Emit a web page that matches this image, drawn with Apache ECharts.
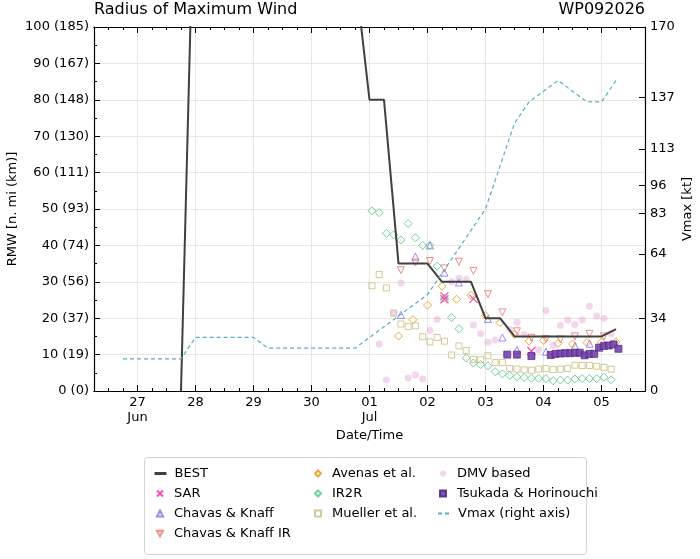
<!DOCTYPE html>
<html>
<head>
<meta charset="utf-8">
<script src="https://cdn.jsdelivr.net/npm/echarts@6/dist/echarts.min.js"></script>
<style>
html, body { margin: 0; padding: 0; background: #fff; }
#main { width: 700px; height: 559px; }
</style>
</head>
<body>
<div id="main"></div>
<script>
// times are hours from 2026-07-01 00:00 UTC
var FONT = 'DejaVu Sans';

// best track and Vmax, 6-hourly
var trackHours = [-102, -96, -90, -84, -78, -72, -66, -60, -54, -48, -42, -36, -30, -24, -18, -12, -6,
  0, 6, 12, 18, 24, 30, 36, 42, 48, 54, 60, 66, 72, 78, 84, 90, 96, 102];
var bestRmw = [null, null, null, null, 0, 155, null, null, null, null, null, null, null, null, null, null, 115,
  80, 80, 35, 35, 35, 30, 30, 30, 20, 20, 15, 15, 15, 15, 15, 15, 15, 17];
var vmaxKt = [15, 15, 15, 15, 15, 25, 25, 25, 25, 25, 20, 20, 20, 20, 20, 20, 20,
  25, 30, 35, 40, 45, 55, 65, 75, 85, 105, 125, 135, 140, 145, 140, 135, 135, 145];

var sarHours = [31, 31, 43, 67];
var sarRmw = [26.0, 25.2, 25.3, 11.0];

var ckHours = [13, 19, 25, 31, 37, 49, 55, 61, 73, 85, 91];
var ckRmw = [20.9, 36.9, 40.0, 32.5, 29.8, 19.8, 14.7, 11.3, 10.8, 12.4, 13.0];

var ckirHours = [13, 19, 25, 31, 37, 43, 49, 55, 61, 67, 73, 79, 85, 91, 97];
var ckirRmw = [33.2, 35.3, 35.7, 33.7, 35.5, 33.0, 26.6, 21.6, 16.4, 14.6, 14.3, 14.2, 15.0, 15.7, 15.0];

var avenasHours = [12, 18, 24, 30, 36, 42, 48, 54, 60, 66, 72, 78, 84, 90, 96, 102];
var avenasRmw = [15.1, 19.6, 23.6, 28.8, 25.2, 26.3, 20.7, 18.8, 15.6, 13.7, 13.9, 13.1, 12.9, 13.3, 13.4, 13.5];

var irHours = [1, 4, 7, 10, 13, 16, 19, 22, 25, 28, 31, 34, 37, 40, 43, 46, 49, 52, 55, 58, 61, 64, 67,
  70, 73, 76, 79, 82, 85, 88, 91, 94, 97, 100];
var ir2rRmw = [49.5, 49.0, 43.3, 42.9, 41.5, 46.0, 42.1, 40.0, 40.0, 34.3, 25.5, 20.2, 17.1, 9.1, 7.7, 7.3,
  6.9, 5.3, 4.7, 4.3, 3.9, 3.7, 3.5, 3.5, 3.4, 2.8, 3.0, 3.0, 3.3, 3.4, 3.4, 3.4, 3.8, 3.1];
var muellerRmw = [28.9, 32.0, 28.3, 21.4, 18.4, 17.7, 17.9, 14.9, 13.5, 14.7, 13.7, 9.9, 12.4, 11.1, 8.7, 8.6,
  9.7, 7.8, 7.8, 6.2, 6.0, 5.8, 5.7, 6.0, 6.2, 5.9, 6.0, 6.2, 7.1, 7.0, 7.0, 6.8, 6.5, 6.0];

var dmvHours = [4, 7, 10, 13, 16, 19, 22, 25, 28, 34, 37, 40, 43, 46, 49, 52, 58, 61, 64, 70, 73, 76, 79,
  82, 85, 88, 91, 94, 97, 100];
var dmvRmw = [12.9, 3.0, 21.4, 29.7, 3.6, 4.4, 3.3, 16.6, 19.7, 30.0, 31.0, 30.6, 18.1, 15.7, 13.4, 14.0,
  16.9, 18.9, 15.5, 11.3, 22.1, 12.5, 18.0, 19.5, 18.3, 19.6, 23.3, 20.6, 20.0, 15.7];

var tsukadaHours = [57, 61, 67, 75, 77, 79, 81, 83, 85, 87, 89, 91, 93, 95, 97, 99, 101, 103];
var tsukadaRmw = [10.0, 10.0, 9.6, 9.9, 10.2, 10.3, 10.4, 10.4, 10.5, 10.5, 9.8, 10.2, 10.2, 11.9, 12.4,
  12.5, 12.8, 11.6];

var dayTicks = [-96, -72, -48, -24, 0, 24, 48, 72, 96];
var vmaxTicks = [0, 34, 64, 83, 96, 113, 137, 170];
var monthNames = ['Jan', 'Feb', 'Mar', 'Apr', 'May', 'Jun', 'Jul', 'Aug', 'Sep', 'Oct', 'Nov', 'Dec'];

var quarterTicks = [];
for (var q = -108; q <= 108; q += 6) {
  if (q % 24 !== 0) quarterTicks.push(q);
}

function pairs(xs, ys) {
  var out = [];
  for (var i = 0; i < xs.length; i++) out.push([xs[i], ys[i]]);
  return out;
}

function dayLabel(v) {
  var d = new Date(Date.UTC(2026, 6, 1) + v * 3600000);
  var dd = ('0' + d.getUTCDate()).slice(-2);
  if (v === dayTicks[0] || d.getUTCDate() === 1) return dd + '\n' + monthNames[d.getUTCMonth()];
  return dd;
}

function xAxisOf(pos, ticks, len, withLabels, withGrid) {
  return {
    type: 'value', position: pos, min: -114, max: 114,
    axisLine: { show: true, onZero: false, lineStyle: { color: '#000', width: 1.2 } },
    axisTick: { show: true, inside: true, length: len, customValues: ticks, lineStyle: { color: '#000', width: 1 } },
    axisLabel: {
      show: withLabels, customValues: ticks, formatter: dayLabel, margin: 4,
      fontFamily: FONT, fontSize: 13, color: '#000', lineHeight: 15
    },
    splitLine: { show: withGrid, lineStyle: { color: '#ebe7e1', width: 1 } }
  };
}

var xAxes = [
  xAxisOf('bottom', dayTicks, 6, true, true),
  xAxisOf('bottom', quarterTicks, 3, false, false),
  xAxisOf('top', dayTicks, 6, false, false),
  xAxisOf('top', quarterTicks, 3, false, false)
];
xAxes[0].name = 'Date/Time';
xAxes[0].nameLocation = 'middle';
xAxes[0].nameGap = 38;
xAxes[0].nameMoveOverlap = false;
xAxes[0].nameTextStyle = { fontFamily: FONT, fontSize: 13, color: '#000' };

function outlined(name, symbol, color, hours, vals, size, rotate) {
  return {
    name: name, type: 'scatter', xAxisIndex: 0, yAxisIndex: 0,
    symbol: symbol, symbolSize: size, symbolRotate: rotate || 0,
    itemStyle: { color: 'rgba(0,0,0,0)', borderColor: color, borderWidth: 1 },
    data: pairs(hours, vals)
  };
}

// one legend block per group so the three columns sit like the original
function legendBlock(left, top, w, pad, names) {
  return {
    orient: 'vertical', left: left, top: top, padding: 0, itemWidth: w, itemHeight: 6, itemGap: 7,
    textStyle: { fontFamily: FONT, fontSize: 13, color: '#000', padding: [0, 0, 0, pad] },
    data: names
  };
}

var option = {
  animation: false,
  backgroundColor: '#fff',
  textStyle: { fontFamily: FONT },
  title: [
    { text: 'Radius of Maximum Wind', left: 94, top: 2, padding: 0,
      textStyle: { fontFamily: FONT, fontSize: 16, fontWeight: 'normal', color: '#000' } },
    { text: 'WP092026', right: 55, top: 2, padding: 0,
      textStyle: { fontFamily: FONT, fontSize: 16, fontWeight: 'normal', color: '#000' } }
  ],
  grid: { left: 94, right: 55, top: 27, bottom: 168, outerBoundsMode: 'none', containLabel: false },
  xAxis: xAxes,
  yAxis: [{
    type: 'value', position: 'left', min: 0, max: 100, interval: 10,
    name: 'RMW [n. mi (km)]', nameLocation: 'middle', nameGap: 75, nameMoveOverlap: false,
    nameTextStyle: { fontFamily: FONT, fontSize: 13, color: '#000' },
    axisLine: { show: true, onZero: false, lineStyle: { color: '#000', width: 1.2 } },
    axisTick: { show: true, inside: true, length: 6, lineStyle: { color: '#000' } },
    minorTick: { show: true, splitNumber: 2, length: 3, lineStyle: { color: '#000' } },
    axisLabel: {
      fontFamily: FONT, fontSize: 13, color: '#000', margin: 5,
      formatter: function (v) { return v + ' (' + Math.round(v * 1.852) + ')'; }
    },
    splitLine: { show: true, lineStyle: { color: '#ebe7e1', width: 1 } }
  }, {
    type: 'value', position: 'right', min: 0, max: 170,
    name: 'Vmax [kt]', nameLocation: 'middle', nameRotate: 90, nameGap: 36, nameMoveOverlap: false,
    nameTextStyle: { fontFamily: FONT, fontSize: 13, color: '#000' },
    axisLine: { show: true, onZero: false, lineStyle: { color: '#000', width: 1.2 } },
    axisTick: { show: true, inside: true, length: 6, customValues: vmaxTicks, lineStyle: { color: '#000' } },
    axisLabel: { customValues: vmaxTicks, fontFamily: FONT, fontSize: 13, color: '#000', margin: 5 },
    splitLine: { show: false }
  }],
  legend: [
    legendBlock(153, 467, 12, 3, [{ name: 'BEST', itemStyle: { opacity: 0 }, lineStyle: { width: 3 } }]),
    legendBlock(156, 487, 6, 6, ['SAR', 'Chavas & Knaff',
      { name: 'Chavas & Knaff IR', icon: 'path://M0,0L10,0L5,9Z' }]),
    legendBlock(314, 467, 6, 6, ['Avenas et al.', 'IR2R', 'Mueller et al.']),
    legendBlock(439, 467, 6, 6, ['DMV based', 'Tsukada & Horinouchi']),
    legendBlock(437, 507, 12, 3, [{ name: 'Vmax (right axis)', itemStyle: { opacity: 0 } }])
  ],
  graphic: [{
    type: 'rect', left: 142, top: 455, silent: true,
    shape: { width: 442, height: 97, r: 3 },
    style: { fill: 'none', stroke: '#d4d4d4', lineWidth: 1 }
  }],
  series: [
    {
      name: 'BEST', type: 'line', xAxisIndex: 0, yAxisIndex: 0, symbol: 'none', connectNulls: true,
      lineStyle: { color: '#404040', width: 2 }, itemStyle: { color: '#404040' },
      data: pairs(trackHours, bestRmw)
    },
    {
      name: 'SAR', type: 'scatter', xAxisIndex: 0, yAxisIndex: 0,
      symbol: 'path://M0,0L10,10M10,0L0,10', symbolSize: 8,
      itemStyle: { color: 'rgba(0,0,0,0)', borderColor: '#f2279b', borderWidth: 1.3 },
      data: pairs(sarHours, sarRmw)
    },
    outlined('Chavas & Knaff', 'triangle', '#7f6ff0', ckHours, ckRmw, 7),
    outlined('Chavas & Knaff IR', 'triangle', '#f06f6f', ckirHours, ckirRmw, 7, 180),
    outlined('Avenas et al.', 'diamond', '#e8900a', avenasHours, avenasRmw, 8),
    outlined('IR2R', 'diamond', '#4fc48a', irHours, ir2rRmw, 8),
    outlined('Mueller et al.', 'rect', '#c8be78', irHours, muellerRmw, 6),
    {
      name: 'DMV based', type: 'scatter', xAxisIndex: 0, yAxisIndex: 0, symbol: 'circle', symbolSize: 7,
      itemStyle: { color: 'rgba(228,150,212,0.5)' },
      data: pairs(dmvHours, dmvRmw)
    },
    {
      name: 'Tsukada & Horinouchi', type: 'scatter', xAxisIndex: 0, yAxisIndex: 0, symbol: 'rect', symbolSize: 7,
      itemStyle: { color: '#7442a8', borderColor: '#55258a', borderWidth: 0.8, opacity: 0.9 },
      data: pairs(tsukadaHours, tsukadaRmw)
    },
    {
      name: 'Vmax (right axis)', type: 'line', xAxisIndex: 0, yAxisIndex: 1, symbol: 'none',
      lineStyle: { color: '#5aaebf', width: 1.2, type: [4, 3] }, itemStyle: { color: '#5aaebf' },
      data: pairs(trackHours, vmaxKt)
    }
  ]
};

var chart = echarts.init(document.getElementById('main'), null, { renderer: 'canvas' });
chart.setOption(option);
</script>
</body>
</html>
